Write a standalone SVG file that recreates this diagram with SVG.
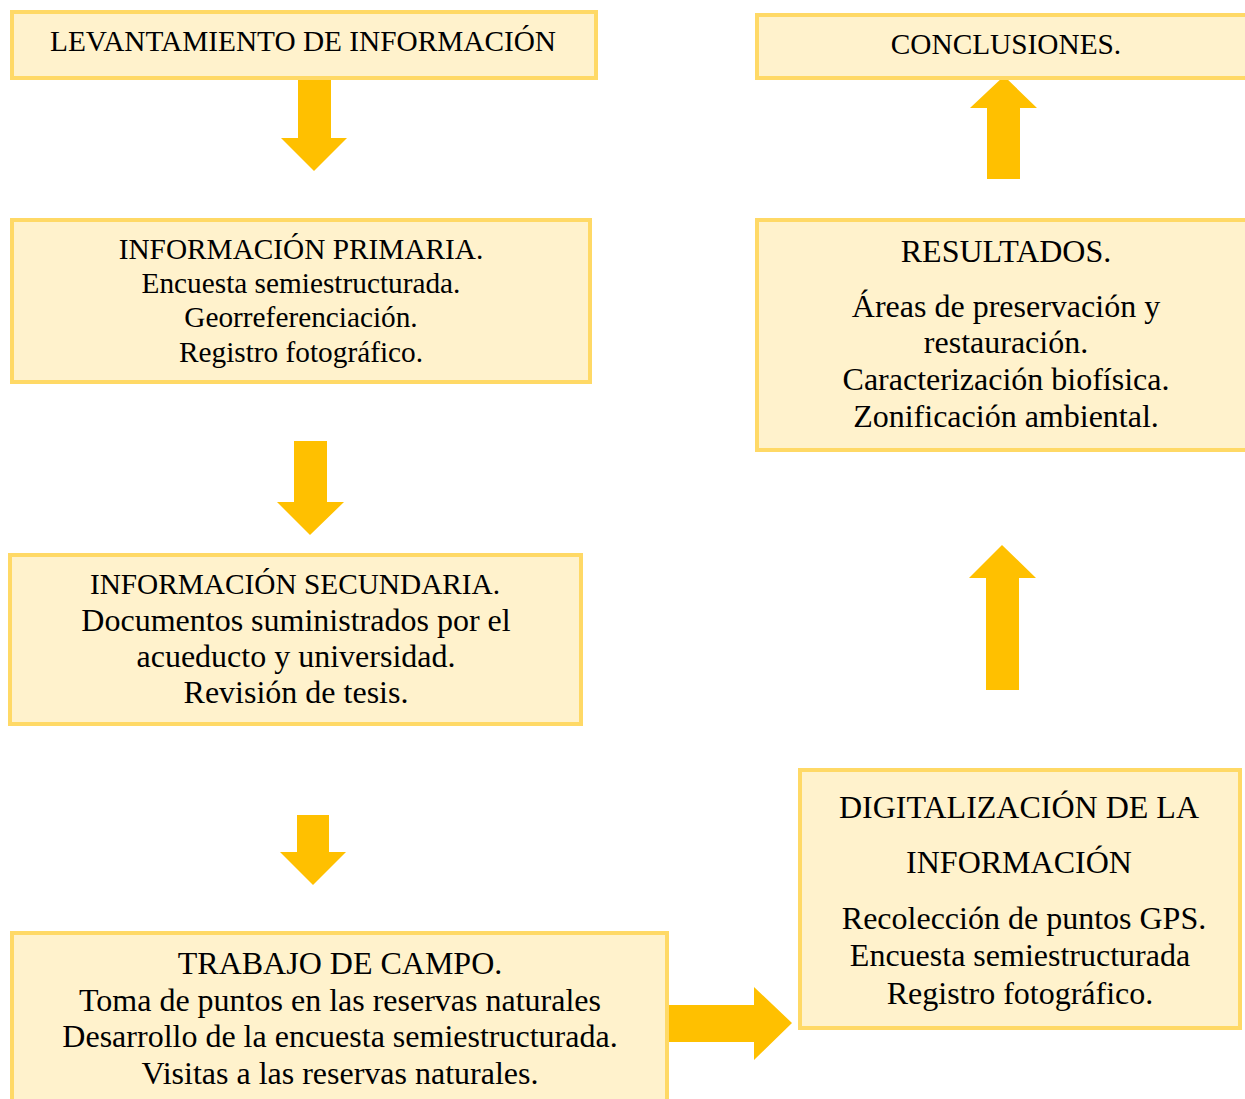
<svg xmlns="http://www.w3.org/2000/svg" width="1245" height="1099" viewBox="0 0 1245 1099">
<style>
.box{fill:#FFF2CC;stroke:#FFD966;stroke-width:4}
.arr{fill:#FFC000}
text{font-family:"Liberation Serif","Times New Roman",serif;fill:#000;text-anchor:middle}
.t{font-size:29.3px}
.b{font-size:32px}
</style>
<rect width="1245" height="1099" fill="#fff"/>
<g id="connectors">
<polygon class="arr" points="298,75 331,75 331,138 347,138 314,171 281,138 298,138"/>
<polygon class="arr" points="294,441 327,441 327,502 344,502 310,535 277,502 294,502"/>
<polygon class="arr" points="297,815 329,815 329,852 346,852 313,885 280,852 297,852"/>
<polygon class="arr" points="668,1005 754,1005 754,987 792,1023 754,1060 754,1042 668,1042"/>
<polygon class="arr" points="986,690 1019,690 1019,578 1036,578 1002,545 969,578 986,578"/>
<polygon class="arr" points="987,179 1020,179 1020,108 1037,108 1004,76 970,108 987,108"/>
</g>
<g id="levantamiento">
<rect class="box" x="12" y="12" width="584" height="66"/>
<text class="t" x="303" y="51">LEVANTAMIENTO DE INFORMACIÓN</text>
</g>
<g id="primaria">
<rect class="box" x="12" y="220" width="578" height="162"/>
<text class="t" x="301" y="259">INFORMACIÓN PRIMARIA.</text>
<text class="t" x="301" y="293">Encuesta semiestructurada.</text>
<text class="t" x="301" y="327">Georreferenciación.</text>
<text class="t" x="301" y="362">Registro fotográfico.</text>
</g>
<g id="secundaria">
<rect class="box" x="10" y="555" width="571" height="169"/>
<text class="t" x="295" y="594">INFORMACIÓN SECUNDARIA.</text>
<text class="b" x="296" y="631">Documentos suministrados por el</text>
<text class="b" x="296" y="667">acueducto y universidad.</text>
<text class="b" x="296" y="703">Revisión de tesis.</text>
</g>
<g id="campo">
<rect class="box" x="12" y="933" width="655" height="180"/>
<text class="b" x="340" y="974">TRABAJO DE CAMPO.</text>
<text class="b" x="340" y="1011">Toma de puntos en las reservas naturales</text>
<text class="b" x="340" y="1047">Desarrollo de la encuesta semiestructurada.</text>
<text class="b" x="340" y="1084">Visitas a las reservas naturales.</text>
</g>
<g id="digitalizacion">
<rect class="box" x="800" y="770" width="440" height="258"/>
<text class="b" x="1019" y="818">DIGITALIZACIÓN DE LA</text>
<text class="b" x="1019" y="873">INFORMACIÓN</text>
<text class="b" x="1024" y="929">Recolección de puntos GPS.</text>
<text class="b" x="1020" y="966">Encuesta semiestructurada</text>
<text class="b" x="1020" y="1004">Registro fotográfico.</text>
</g>
<g id="resultados">
<rect class="box" x="757" y="220" width="500" height="230"/>
<text class="b" x="1006" y="262">RESULTADOS.</text>
<text class="b" x="1006" y="317">Áreas de preservación y</text>
<text class="b" x="1006" y="353">restauración.</text>
<text class="b" x="1006" y="390">Caracterización biofísica.</text>
<text class="b" x="1006" y="427">Zonificación ambiental.</text>
</g>
<g id="conclusiones">
<rect class="box" x="757" y="15" width="500" height="63"/>
<text class="t" x="1006" y="54">CONCLUSIONES.</text>
</g>
</svg>
